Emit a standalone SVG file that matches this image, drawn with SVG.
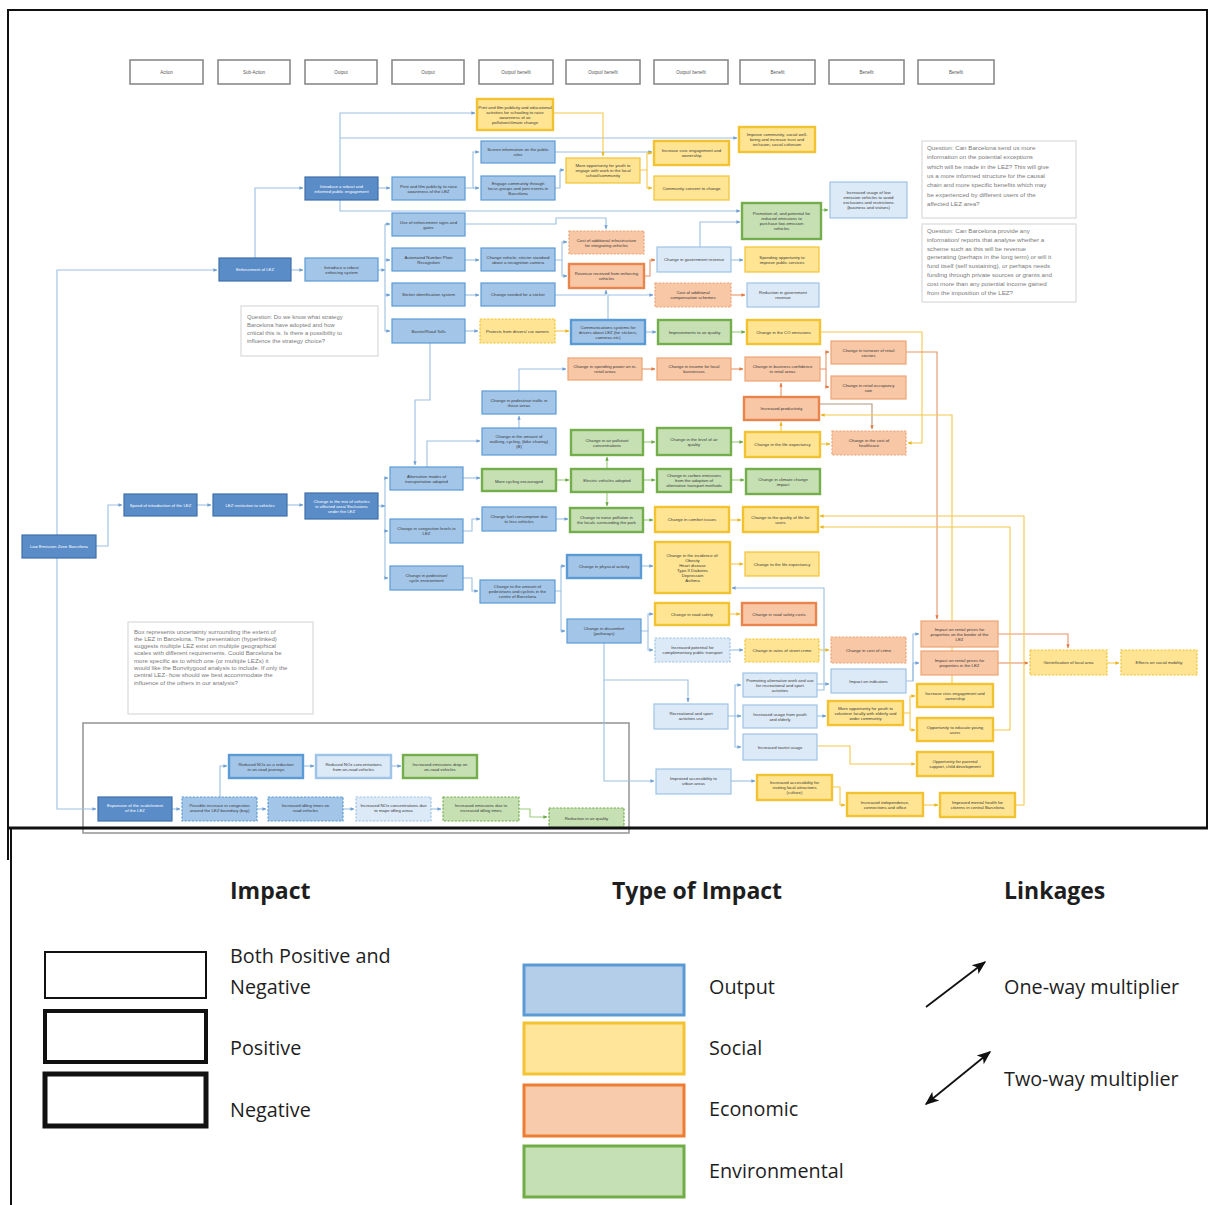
<svg xmlns="http://www.w3.org/2000/svg" width="1209" height="1205" viewBox="0 0 1209 1205">
<style>
.nd text{font-family:"Liberation Sans",Arial,sans-serif;font-size:4.3px;text-anchor:middle;fill:#3a3a3a}
.nd rect{stroke-width:1.2}
.hd rect{fill:#fff;stroke:#8a8a8a;stroke-width:1.6}
.hd text{font-size:4.5px;fill:#555}
.db rect{fill:#5a8cc8;stroke:#3f70aa}
.db text{fill:#fff}
.b rect{fill:#a3c5e8;stroke:#5b9bd5}
.lb rect{fill:#dce9f6;stroke:#9dc3e6}
.y rect{fill:#ffe593;stroke:#f2c232}
.o rect{fill:#f8c7a6;stroke:#eea476}
.g rect{fill:#c6e0b4;stroke:#74ae4c}
.tk rect{stroke-width:2.4}
.o.tk rect{stroke:#e9844c}
.ds rect{stroke-dasharray:2.2 1.4}
.q rect{fill:#fff;stroke:#d9d9d9;stroke-width:1.2}
.q text{font-family:"Liberation Sans",Arial,sans-serif;fill:#7a7a7a}
.cn path{fill:none;stroke-width:1.1}
.cb{stroke:#9cc0e4;marker-end:url(#ab)}
.cy{stroke:#f4c84a;marker-end:url(#ay)}
.co{stroke:#e89468;marker-end:url(#ao)}
.cg{stroke:#9ccb7c;marker-end:url(#ag)}
.lg{font-family:"Open Sans","Noto Sans",sans-serif;fill:#1e1e1e}
.lh{font-size:23px;font-weight:700}
.lt{font-size:19.8px}
</style>
<defs>
<marker id="ab" viewBox="0 0 6 6" refX="5.5" refY="3" markerWidth="3.6" markerHeight="3.6" orient="auto"><path d="M0,0.5 L6,3 L0,5.5z" fill="#6f9fd3"/></marker>
<marker id="ay" viewBox="0 0 6 6" refX="5.5" refY="3" markerWidth="3.6" markerHeight="3.6" orient="auto"><path d="M0,0.5 L6,3 L0,5.5z" fill="#e9b520"/></marker>
<marker id="ao" viewBox="0 0 6 6" refX="5.5" refY="3" markerWidth="3.6" markerHeight="3.6" orient="auto"><path d="M0,0.5 L6,3 L0,5.5z" fill="#e27a44"/></marker>
<marker id="ag" viewBox="0 0 6 6" refX="5.5" refY="3" markerWidth="3.6" markerHeight="3.6" orient="auto"><path d="M0,0.5 L6,3 L0,5.5z" fill="#6aa843"/></marker>
<marker id="ak" viewBox="0 0 10 10" refX="9" refY="5" markerUnits="userSpaceOnUse" markerWidth="14" markerHeight="14" orient="auto-start-reverse"><path d="M0,1 L10,5 L0,9 L2.5,5z" fill="#111"/></marker>
</defs>
<rect width="1209" height="1205" fill="#fff"/>

<!-- frame -->
<path d="M8,860 V10 H1207 V828" fill="none" stroke="#111" stroke-width="2"/>

<!-- uncertainty box -->
<rect x="83" y="723" width="546" height="110" fill="none" stroke="#9a9a9a" stroke-width="1.6"/>

<!-- connectors -->
<g id="connectors" class="cn">
<path class="cb" d="M57,535 V270 H217"/>
<path class="cb" d="M57,558 V809 H96"/>
<path class="cb" d="M96,546 H108 V505 H122"/>
<path class="cb" d="M197,505 H211"/>
<path class="cb" d="M287,505 H303"/>
<path class="cb" d="M255,258 V188 H303"/>
<path class="cb" d="M291,270 H303"/>
<path class="cb" d="M378,188 H390"/>
<path class="cb" d="M340,177 V113 H475"/>
<path class="cb" d="M340,138 H737"/>
<path class="cb" d="M340,200 V211 H740"/>
<path class="cb" d="M465,188 H473 V152 H479"/>
<path class="cb" d="M473,188 H479"/>
<path class="cb" d="M378,270 H385"/>
<path class="cb" d="M385,224 V331 H390"/>
<path class="cb" d="M385,224 H390"/>
<path class="cb" d="M385,260 H390"/>
<path class="cb" d="M385,295 H390"/>
<path class="cb" d="M465,224 H556 V218 H606 V229"/>
<path class="cb" d="M465,260 H479"/>
<path class="cb" d="M555,260 H562 V242 H567"/>
<path class="cb" d="M562,260 V276 H567"/>
<path class="cb" d="M465,295 H479"/>
<path class="cb" d="M555,295 H606 V290"/>
<path class="cb" d="M465,331 H478"/>
<path class="cy" d="M555,331 H569"/>
<path class="cb" d="M645,332 H656"/>
<path class="cg" d="M731,332 H745"/>
<path class="cb" d="M608,320 V295 H653"/>
<path class="co" d="M731,295 H745"/>
<path class="co" d="M644,276 H650 V260 H655"/>
<path class="cb" d="M731,260 H743"/>
<path class="cb" d="M700,247 V222 H740"/>
<path class="cg" d="M821,210 H828"/>
<path class="cb" d="M555,152 H652"/>
<path class="cb" d="M555,188 H560 V170 H564"/>
<path class="cy" d="M553,113 H603 V156"/>
<path class="cy" d="M640,170 H647 V153 H652"/>
<path class="cy" d="M647,170 V188 H652"/>
<path class="cb" d="M430,343 V400 H415 V465"/>
<path class="cb" d="M463,478 H480"/>
<path class="cb" d="M427,467 V441 H480"/>
<path class="cb" d="M519,428 V416"/>
<path class="cb" d="M519,391 V369 H566"/>
<path class="co" d="M642,369 H655"/>
<path class="co" d="M731,369 H743"/>
<path class="co" d="M820,369 H826 V352 H829"/>
<path class="co" d="M826,369 V387 H829"/>
<path class="co" d="M781,397 V383"/>
<path class="cy" d="M781,432 V422"/>
<path class="co" d="M819,404 H872 V429" style="stroke:#b8957e"/>
<path class="cy" d="M820,444 H830"/>
<path class="cy" d="M820,332 H922 V443 H908"/>
<path class="co" d="M906,352 H937 V619"/>
<path class="cy" d="M952,684 V415 H821"/>
<path class="cg" d="M556,480 H569"/>
<path class="cg" d="M607,469 V457"/>
<path class="cg" d="M607,492 V506"/>
<path class="cg" d="M643,442 H655"/>
<path class="cg" d="M731,442 H743"/>
<path class="cg" d="M643,480 H655"/>
<path class="cg" d="M731,480 H744"/>
<path class="cb" d="M463,531 H472 V519 H480"/>
<path class="cb" d="M556,519 H568"/>
<path class="cg" d="M643,520 H653"/>
<path class="cy" d="M729,520 H741"/>
<path class="cb" d="M385,478 V578 H388"/>
<path class="cb" d="M378,506 H385"/>
<path class="cb" d="M385,478 H388"/>
<path class="cb" d="M385,531 H388"/>
<path class="cb" d="M463,578 H472 V591 H478"/>
<path class="cb" d="M555,591 H561 V566 H565"/>
<path class="cb" d="M561,591 V631 H565"/>
<path class="cb" d="M641,566 H653"/>
<path class="cy" d="M730,564 H743"/>
<path class="cb" d="M641,631 H648 V614 H653"/>
<path class="cb" d="M648,631 V650 H653"/>
<path class="cy" d="M729,614 H740"/>
<path class="cb" d="M730,650 H743"/>
<path class="cy" d="M819,650 H829"/>
<path class="cb" d="M604,643 V680 H688 V702"/>
<path class="cb" d="M604,680 V781 H654"/>
<path class="cb" d="M728,716 H735 V685 H741"/>
<path class="cb" d="M735,716 H741"/>
<path class="cb" d="M735,716 V747 H741"/>
<path class="cb" d="M817,690 H824 V588 H732"/>
<path class="cb" d="M817,684 H829"/>
<path class="cb" d="M906,681 H913 V634 H919"/>
<path class="cb" d="M913,681 V663 H919"/>
<path class="cb" d="M817,716 H826"/>
<path class="cy" d="M903,713 H910 V696 H915"/>
<path class="cy" d="M910,713 V730 H915"/>
<path class="cy" d="M817,746 H850 V764 H915"/>
<path class="cb" d="M731,781 H755"/>
<path class="cy" d="M832,787 H840 V805 H845"/>
<path class="cy" d="M923,805 H938"/>
<path class="co" d="M998,634 H1068 V648"/>
<path class="co" d="M998,663 H1028"/>
<path class="cy" d="M1107,663 H1119"/>
<path class="cy" d="M1015,805 H1024 V516 H820"/>
<path class="cy" d="M993,730 H1010 V527 H820"/>
<path class="cb" d="M172,809 H180"/>
<path class="cb" d="M257,809 H266"/>
<path class="cb" d="M220,797 V766 H227"/>
<path class="cb" d="M303,766 H314"/>
<path class="cb" d="M391,766 H401"/>
<path class="cb" d="M343,809 H354"/>
<path class="cb" d="M431,809 H441"/>
<path class="cg" d="M519,809 H530 V817 H547"/>
</g>

<!-- header boxes -->
<g id="h1" class="nd hd"><rect x="130" y="60" width="73" height="24"/><text x="166.5" y="74">Action</text></g>
<g id="h2" class="nd hd"><rect x="218" y="60" width="72" height="24"/><text x="254" y="74">Sub-Action</text></g>
<g id="h3" class="nd hd"><rect x="305" y="60" width="72" height="24"/><text x="341" y="74">Output</text></g>
<g id="h4" class="nd hd"><rect x="392" y="60" width="72" height="24"/><text x="428" y="74">Output</text></g>
<g id="h5" class="nd hd"><rect x="479" y="60" width="74" height="24"/><text x="516" y="74">Output/ benefit</text></g>
<g id="h6" class="nd hd"><rect x="566" y="60" width="74" height="24"/><text x="603" y="74">Output/ benefit</text></g>
<g id="h7" class="nd hd"><rect x="654" y="60" width="74" height="24"/><text x="691" y="74">Output/ benefit</text></g>
<g id="h8" class="nd hd"><rect x="740" y="60" width="75" height="24"/><text x="777.5" y="74">Benefit</text></g>
<g id="h9" class="nd hd"><rect x="829" y="60" width="75" height="24"/><text x="866.5" y="74">Benefit</text></g>
<g id="h10" class="nd hd"><rect x="918" y="60" width="76" height="24"/><text x="956" y="74">Benefit</text></g>

<!-- nodes -->
<g id="n1" class="nd db"><rect x="22" y="535" width="74" height="23"/><text x="59" y="548">Low Emission Zone Barcelona</text></g>
<g id="n2" class="nd db"><rect x="219" y="258" width="72" height="23"/><text x="255" y="271">Enforcement of LEZ</text></g>
<g id="n3" class="nd db"><rect x="124" y="494" width="73" height="22"/><text x="160.5" y="506.5">Speed of introduction of the LEZ</text></g>
<g id="n4" class="nd db"><rect x="213" y="494" width="74" height="22"/><text x="250" y="506.5">LEZ restriction to vehicles</text></g>
<g id="n5" class="nd db"><rect x="305" y="493" width="73" height="26"/><text x="341.5" y="502.5">Change in the mix of vehicles<tspan x="341.5" y="507.5">in affected area/ Exclusions</tspan><tspan x="341.5" y="512.5">under the LEZ</tspan></text></g>
<g id="n6" class="nd db"><rect x="305" y="177" width="73" height="23"/><text x="341.5" y="187.5">Introduce a robust and<tspan x="341.5" y="192.5">informed public engagement</tspan></text></g>
<g id="n7" class="nd b"><rect x="305" y="258" width="73" height="23"/><text x="341.5" y="268.5">Introduce a robust<tspan x="341.5" y="273.5">enforcing system</tspan></text></g>
<g id="n8" class="nd b"><rect x="392" y="177" width="73" height="23"/><text x="428.5" y="187.5">Print and film publicity to raise<tspan x="428.5" y="192.5">awareness of the LEZ</tspan></text></g>
<g id="n9" class="nd b"><rect x="392" y="213" width="73" height="23"/><text x="428.5" y="223.5">Use of enforcement signs and<tspan x="428.5" y="228.5">gates</tspan></text></g>
<g id="n10" class="nd b"><rect x="392" y="248" width="73" height="23"/><text x="428.5" y="258.5">Automated Number Plate<tspan x="428.5" y="263.5">Recognition</tspan></text></g>
<g id="n11" class="nd b"><rect x="392" y="283" width="73" height="23"/><text x="428.5" y="296">Sticker identification system</text></g>
<g id="n12" class="nd b"><rect x="392" y="319" width="73" height="24"/><text x="428.5" y="332.5">Barrier/Road Tolls</text></g>
<g id="n13" class="nd b"><rect x="390" y="467" width="73" height="23"/><text x="426.5" y="477.5">Alternative modes of<tspan x="426.5" y="482.5">transportation adopted</tspan></text></g>
<g id="n14" class="nd b"><rect x="390" y="519" width="73" height="24"/><text x="426.5" y="530">Change in congestion levels in<tspan x="426.5" y="535">LEZ</tspan></text></g>
<g id="n15" class="nd b"><rect x="390" y="566" width="73" height="24"/><text x="426.5" y="577">Change in pedestrian/<tspan x="426.5" y="582">cycle environment</tspan></text></g>
<g id="n16" class="nd y tk"><rect x="477" y="99" width="76" height="31"/><text x="515" y="108.5">Print and film publicity and educational<tspan x="515" y="113.5">activities for schooling to raise</tspan><tspan x="515" y="118.5">awareness of air</tspan><tspan x="515" y="123.5">pollution/climate change</tspan></text></g>
<g id="n17" class="nd b"><rect x="481" y="141" width="74" height="22"/><text x="518" y="151">Screen information on the public<tspan x="518" y="156">sites</tspan></text></g>
<g id="n18" class="nd b"><rect x="481" y="176" width="74" height="24"/><text x="518" y="184.5">Engage community through<tspan x="518" y="189.5">focus groups and joint events in</tspan><tspan x="518" y="194.5">Barcelona</tspan></text></g>
<g id="n19" class="nd b"><rect x="481" y="248" width="74" height="23"/><text x="518" y="258.5">Change vehicle, stricter standard<tspan x="518" y="263.5">about a recognition camera</tspan></text></g>
<g id="n20" class="nd b"><rect x="481" y="283" width="74" height="23"/><text x="518" y="296">Change needed for a sticker</text></g>
<g id="n21" class="nd y ds"><rect x="480" y="319" width="75" height="24"/><text x="517.5" y="332.5">Protests from drivers/ car owners</text></g>
<g id="n22" class="nd b"><rect x="482" y="391" width="74" height="23"/><text x="519" y="401.5">Change in pedestrian traffic in<tspan x="519" y="406.5">those areas</tspan></text></g>
<g id="n23" class="nd b"><rect x="482" y="428" width="74" height="27"/><text x="519" y="438">Change in the amount of<tspan x="519" y="443">walking, cycling, (bike sharing)</tspan><tspan x="519" y="448">(B)</tspan></text></g>
<g id="n24" class="nd g tk"><rect x="482" y="469" width="74" height="22"/><text x="519" y="482.5">More cycling encouraged</text></g>
<g id="n25" class="nd b"><rect x="482" y="507" width="74" height="24"/><text x="519" y="518">Change fuel consumption due<tspan x="519" y="523">to less vehicles</tspan></text></g>
<g id="n26" class="nd b"><rect x="480" y="580" width="75" height="23"/><text x="517.5" y="588">Change to the amount of<tspan x="517.5" y="593">pedestrians and cyclists in the</tspan><tspan x="517.5" y="598">centre of Barcelona</tspan></text></g>
<g id="n27" class="nd y"><rect x="566" y="158" width="74" height="25"/><text x="603" y="167">More opportunity for youth to<tspan x="603" y="172">engage with work in the local</tspan><tspan x="603" y="177">school/community</tspan></text></g>
<g id="n28" class="nd o ds"><rect x="569" y="231" width="75" height="23"/><text x="606.5" y="241.5">Cost of additional infrastructure<tspan x="606.5" y="246.5">for integrating vehicles</tspan></text></g>
<g id="n29" class="nd o tk"><rect x="569" y="264" width="75" height="24"/><text x="606.5" y="275">Revenue received from enforcing<tspan x="606.5" y="280">vehicles</tspan></text></g>
<g id="n30" class="nd b tk"><rect x="571" y="320" width="74" height="24"/><text x="608" y="328.5">Communications systems for<tspan x="608" y="333.5">drivers about LEZ (for stickers,</tspan><tspan x="608" y="338.5">cameras etc)</tspan></text></g>
<g id="n31" class="nd o"><rect x="568" y="358" width="74" height="22"/><text x="605" y="368">Change in spending power on in-<tspan x="605" y="373">retail areas</tspan></text></g>
<g id="n32" class="nd g tk"><rect x="571" y="430" width="72" height="25"/><text x="607" y="441.5">Change in air pollutant<tspan x="607" y="446.5">concentrations</tspan></text></g>
<g id="n33" class="nd g tk"><rect x="571" y="469" width="72" height="23"/><text x="607" y="482">Electric vehicles adopted</text></g>
<g id="n34" class="nd g tk"><rect x="570" y="508" width="73" height="24"/><text x="606.5" y="519">Change to noise pollution in<tspan x="606.5" y="524">the locals surrounding the park</tspan></text></g>
<g id="n35" class="nd b tk"><rect x="567" y="555" width="74" height="23"/><text x="604" y="568">Change in physical activity</text></g>
<g id="n36" class="nd b"><rect x="567" y="619" width="74" height="24"/><text x="604" y="630">Change in discomfort<tspan x="604" y="635">(pathways)</tspan></text></g>
<g id="n37" class="nd y tk"><rect x="654" y="141" width="75" height="24"/><text x="691.5" y="152">Increase civic engagement and<tspan x="691.5" y="157">ownership</tspan></text></g>
<g id="n38" class="nd y"><rect x="654" y="176" width="75" height="24"/><text x="691.5" y="189.5">Community consent to change</text></g>
<g id="n39" class="nd lb"><rect x="657" y="247" width="74" height="25"/><text x="694" y="261">Change in government revenue</text></g>
<g id="n40" class="nd o ds"><rect x="655" y="283" width="76" height="24"/><text x="693" y="294">Cost of additional<tspan x="693" y="299">compensation schemes</tspan></text></g>
<g id="n41" class="nd g tk"><rect x="658" y="320" width="73" height="24"/><text x="694.5" y="333.5">Improvements to air quality</text></g>
<g id="n42" class="nd o"><rect x="657" y="358" width="74" height="22"/><text x="694" y="368">Change in income for local<tspan x="694" y="373">businesses</tspan></text></g>
<g id="n43" class="nd g tk"><rect x="657" y="428" width="74" height="27"/><text x="694" y="440.5">Change in the level of air<tspan x="694" y="445.5">quality</tspan></text></g>
<g id="n44" class="nd g tk"><rect x="657" y="469" width="74" height="23"/><text x="694" y="477">Change in carbon emissions<tspan x="694" y="482">from the adoption of</tspan><tspan x="694" y="487">alternative transport methods</tspan></text></g>
<g id="n45" class="nd y tk"><rect x="655" y="507" width="74" height="25"/><text x="692" y="521">Change in comfort issues</text></g>
<g id="n46" class="nd y tk"><rect x="655" y="542" width="75" height="51"/><text x="692.5" y="556.5">Change in the incidence of:<tspan x="692.5" y="561.5">Obesity</tspan><tspan x="692.5" y="566.5">Heart disease</tspan><tspan x="692.5" y="571.5">Type II Diabetes</tspan><tspan x="692.5" y="576.5">Depression</tspan><tspan x="692.5" y="581.5">Asthma</tspan></text></g>
<g id="n47" class="nd y tk"><rect x="655" y="603" width="74" height="22"/><text x="692" y="615.5">Change in road safety</text></g>
<g id="n48" class="nd lb ds"><rect x="655" y="638" width="75" height="24"/><text x="692.5" y="649">Increased potential for<tspan x="692.5" y="654">complementary public transport</tspan></text></g>
<g id="n49" class="nd y tk"><rect x="739" y="127" width="76" height="25"/><text x="777" y="136">Improve community, social well-<tspan x="777" y="141">being and increase trust and</tspan><tspan x="777" y="146">inclusion, social cohesion</tspan></text></g>
<g id="n50" class="nd g tk"><rect x="742" y="203" width="79" height="36"/><text x="781.5" y="215">Promotion of, and potential for<tspan x="781.5" y="220">reduced emissions to</tspan><tspan x="781.5" y="225">purchase low-emission</tspan><tspan x="781.5" y="230">vehicles</tspan></text></g>
<g id="n51" class="nd y"><rect x="745" y="247" width="74" height="25"/><text x="782" y="258.5">Spending opportunity to<tspan x="782" y="263.5">improve public services</tspan></text></g>
<g id="n52" class="nd lb"><rect x="747" y="283" width="72" height="24"/><text x="783" y="294">Reduction in government<tspan x="783" y="299">revenue</tspan></text></g>
<g id="n53" class="nd y tk"><rect x="747" y="320" width="73" height="24"/><text x="783.5" y="333.5">Change in the CO emissions</text></g>
<g id="n54" class="nd o"><rect x="745" y="357" width="75" height="24"/><text x="782.5" y="368">Change in business confidence<tspan x="782.5" y="373">in retail areas</tspan></text></g>
<g id="n55" class="nd o tk"><rect x="744" y="397" width="75" height="23"/><text x="781.5" y="410">Increased productivity</text></g>
<g id="n56" class="nd y tk"><rect x="745" y="432" width="75" height="25"/><text x="782.5" y="446">Change in the life expectancy</text></g>
<g id="n57" class="nd g tk"><rect x="746" y="469" width="74" height="25"/><text x="783" y="480.5">Change in climate change<tspan x="783" y="485.5">impact</tspan></text></g>
<g id="n58" class="nd y tk"><rect x="743" y="507" width="75" height="25"/><text x="780.5" y="518.5">Change to the quality of life for<tspan x="780.5" y="523.5">users</tspan></text></g>
<g id="n59" class="nd y"><rect x="745" y="552" width="74" height="24"/><text x="782" y="565.5">Change to the life expectancy</text></g>
<g id="n60" class="nd o tk"><rect x="742" y="603" width="74" height="22"/><text x="779" y="615.5">Change in road safety costs</text></g>
<g id="n61" class="nd y ds"><rect x="745" y="639" width="74" height="23"/><text x="782" y="652">Change in rates of street crime</text></g>
<g id="n62" class="nd lb"><rect x="830" y="182" width="77" height="36"/><text x="868.5" y="194">Increased usage of low<tspan x="868.5" y="199">emission vehicles to avoid</tspan><tspan x="868.5" y="204">exclusions and restrictions</tspan><tspan x="868.5" y="209">(business and visitors)</tspan></text></g>
<g id="n63" class="nd o"><rect x="831" y="341" width="75" height="23"/><text x="868.5" y="351.5">Change in turnover of retail<tspan x="868.5" y="356.5">sectors</tspan></text></g>
<g id="n64" class="nd o"><rect x="831" y="376" width="75" height="23"/><text x="868.5" y="386.5">Change in retail occupancy<tspan x="868.5" y="391.5">rate</tspan></text></g>
<g id="n65" class="nd o ds"><rect x="832" y="431" width="74" height="24"/><text x="869" y="442">Change in the cost of<tspan x="869" y="447">healthcare</tspan></text></g>
<g id="n66" class="nd o ds"><rect x="831" y="637" width="75" height="26"/><text x="868.5" y="651.5">Change in cost of crime</text></g>
<g id="n67" class="nd lb"><rect x="743" y="673" width="74" height="24"/><text x="780" y="681.5">Promoting alternative work and use<tspan x="780" y="686.5">for recreational and sport</tspan><tspan x="780" y="691.5">activities</tspan></text></g>
<g id="n68" class="nd lb"><rect x="654" y="704" width="74" height="25"/><text x="691" y="715">Recreational and sport<tspan x="691" y="720">activities use</tspan></text></g>
<g id="n69" class="nd lb"><rect x="743" y="705" width="74" height="23"/><text x="780" y="715.5">Increased usage from youth<tspan x="780" y="720.5">and elderly</tspan></text></g>
<g id="n70" class="nd lb"><rect x="743" y="734" width="74" height="26"/><text x="780" y="748.5">Increased tourist usage</text></g>
<g id="n71" class="nd lb"><rect x="656" y="769" width="75" height="25"/><text x="693.5" y="780">Improved accessibility to<tspan x="693.5" y="785">urban areas</tspan></text></g>
<g id="n72" class="nd y tk"><rect x="828" y="701" width="75" height="24"/><text x="865.5" y="709.5">More opportunity for youth to<tspan x="865.5" y="714.5">volunteer locally with elderly and</tspan><tspan x="865.5" y="719.5">wider community</tspan></text></g>
<g id="n73" class="nd lb"><rect x="831" y="669" width="75" height="24"/><text x="868.5" y="682.5">Impact on indicators</text></g>
<g id="n74" class="nd o"><rect x="921" y="621" width="77" height="26"/><text x="959.5" y="630.5">Impact on rental prices for<tspan x="959.5" y="635.5">properties on the border of the</tspan><tspan x="959.5" y="640.5">LEZ</tspan></text></g>
<g id="n75" class="nd o"><rect x="921" y="651" width="77" height="24"/><text x="959.5" y="662">Impact on rental prices for<tspan x="959.5" y="667">properties in the LEZ</tspan></text></g>
<g id="n76" class="nd y tk"><rect x="917" y="684" width="76" height="23"/><text x="955" y="694.5">Increase civic engagement and<tspan x="955" y="699.5">ownership</tspan></text></g>
<g id="n77" class="nd y tk"><rect x="917" y="718" width="76" height="23"/><text x="955" y="728.5">Opportunity to educate young<tspan x="955" y="733.5">users</tspan></text></g>
<g id="n78" class="nd y tk"><rect x="917" y="752" width="76" height="24"/><text x="955" y="763">Opportunity for parental<tspan x="955" y="768">support, child development</tspan></text></g>
<g id="n79" class="nd y tk"><rect x="757" y="775" width="75" height="25"/><text x="794.5" y="784">Increased accessibility for<tspan x="794.5" y="789">visiting local attractions</tspan><tspan x="794.5" y="794">(culture)</tspan></text></g>
<g id="n80" class="nd y tk"><rect x="847" y="793" width="76" height="23"/><text x="885" y="803.5">Increased independence,<tspan x="885" y="808.5">connections and office</tspan></text></g>
<g id="n81" class="nd y tk"><rect x="940" y="793" width="75" height="24"/><text x="977.5" y="804">Improved mental health for<tspan x="977.5" y="809">citizens in central Barcelona</tspan></text></g>
<g id="n82" class="nd y ds"><rect x="1030" y="650" width="77" height="25"/><text x="1068.5" y="664">Gentrification of local area</text></g>
<g id="n83" class="nd y ds"><rect x="1121" y="650" width="76" height="25"/><text x="1159" y="664">Effects on social mobility</text></g>
<g id="n84" class="nd db"><rect x="98" y="797" width="74" height="24"/><text x="135" y="807">Expansion of the scale/extent<tspan x="135" y="812">of the LEZ</tspan></text></g>
<g id="n85" class="nd b ds"><rect x="182" y="797" width="75" height="24"/><text x="219.5" y="807">Possible increase in congestion<tspan x="219.5" y="812">around the LEZ boundary (bay)</tspan></text></g>
<g id="n86" class="nd b tk"><rect x="229" y="755" width="74" height="23"/><text x="266" y="765.5">Reduced NOx as a reduction<tspan x="266" y="770.5">in on-road journeys</tspan></text></g>
<g id="n87" class="nd lb tk"><rect x="316" y="755" width="75" height="23"/><text x="353.5" y="765.5">Reduced NOx concentrations<tspan x="353.5" y="770.5">from on-road vehicles</tspan></text></g>
<g id="n88" class="nd g tk"><rect x="403" y="755" width="74" height="23"/><text x="440" y="765.5">Increased emissions drop on<tspan x="440" y="770.5">on-road vehicles</tspan></text></g>
<g id="n89" class="nd b ds"><rect x="268" y="797" width="75" height="24"/><text x="305.5" y="807">Increased idling times on<tspan x="305.5" y="812">road vehicles</tspan></text></g>
<g id="n90" class="nd lb ds"><rect x="356" y="797" width="75" height="24"/><text x="393.5" y="807">Increased NOx concentrations due<tspan x="393.5" y="812">to major idling areas</tspan></text></g>
<g id="n91" class="nd g ds"><rect x="443" y="797" width="76" height="24"/><text x="481" y="807">Increased emissions due to<tspan x="481" y="812">increased idling times</tspan></text></g>
<g id="n92" class="nd g ds"><rect x="549" y="808" width="75" height="20"/><text x="586.5" y="819.5">Reduction in air quality</text></g>

<!-- question notes -->
<g id="q1" class="q"><rect x="922" y="141" width="154" height="77"/><text font-size="6.2" x="927" y="150">Question: Can Barcelona send us more<tspan x="927" y="159.3">information on the potential exceptions</tspan><tspan x="927" y="168.6">which will be made in the LEZ? This will give</tspan><tspan x="927" y="177.9">us a more informed structure for the causal</tspan><tspan x="927" y="187.2">chain and more specific benefits which may</tspan><tspan x="927" y="196.5">be experienced by different users of the</tspan><tspan x="927" y="205.8">affected LEZ area?</tspan></text></g>
<g id="q2" class="q"><rect x="922" y="224" width="154" height="78"/><text font-size="6.2" x="927" y="233">Question: Can Barcelona provide any<tspan x="927" y="241.8">information/ reports that analyse whether a</tspan><tspan x="927" y="250.6">scheme such as this will be revenue</tspan><tspan x="927" y="259.4">generating (perhaps in the long term) or will it</tspan><tspan x="927" y="268.2">fund itself (self sustaining), or perhaps needs</tspan><tspan x="927" y="277">funding through private sources or grants and</tspan><tspan x="927" y="285.8">cost more than any potential income gained</tspan><tspan x="927" y="294.6">from the imposition of the LEZ?</tspan></text></g>
<g id="q3" class="q"><rect x="241" y="306" width="137" height="50"/><text font-size="5.9" x="247" y="318.5">Question: Do we know what strategy<tspan x="247" y="326.5">Barcelona have adopted and how</tspan><tspan x="247" y="334.5">critical this is. Is there a possibility to</tspan><tspan x="247" y="342.5">influence the strategy choice?</tspan></text></g>
<g id="q4" class="q"><rect x="128" y="622" width="185" height="92"/><text font-size="6.1" x="134" y="633.5">Box represents uncertainty surrounding the extent of<tspan x="134" y="640.8">the LEZ in Barcelona. The presentation (hyperlinked)</tspan><tspan x="134" y="648.1">suggests multiple LEZ exist on multiple geographical</tspan><tspan x="134" y="655.4">scales with different requirements. Could Barcelona be</tspan><tspan x="134" y="662.7">more specific as to which one (or multiple LEZs) it</tspan><tspan x="134" y="670">would like the Bonvitygood analysis to include. If only the</tspan><tspan x="134" y="677.3">central LEZ- how should we best accommodate the</tspan><tspan x="134" y="684.6">influence of the others in our analysis?</tspan></text></g>

<!-- separator / legend border -->
<line x1="9" y1="828" x2="1208" y2="828" stroke="#111" stroke-width="3"/>
<line x1="11" y1="827" x2="11" y2="1205" stroke="#111" stroke-width="2"/>

<!-- legend -->
<g id="legend">
<text class="lg lh" x="230" y="899">Impact</text>
<text class="lg lh" x="612" y="899">Type of Impact</text>
<text class="lg lh" x="1004" y="899">Linkages</text>

<g id="lg-both"><rect x="45" y="952" width="161" height="46" fill="#fff" stroke="#111" stroke-width="2"/><text class="lg lt" x="230" y="963">Both Positive and</text><text class="lg lt" x="230" y="994">Negative</text></g>
<g id="lg-pos"><rect x="45" y="1011" width="161" height="51" fill="#fff" stroke="#111" stroke-width="4"/><text class="lg lt" x="230" y="1055">Positive</text></g>
<g id="lg-neg"><rect x="45" y="1074" width="161" height="52" fill="#fff" stroke="#111" stroke-width="5"/><text class="lg lt" x="230" y="1117">Negative</text></g>

<g id="lg-output"><rect x="524" y="965" width="160" height="50" fill="#b4cde9" stroke="#5b9bd5" stroke-width="3"/><text class="lg lt" x="709" y="994">Output</text></g>
<g id="lg-social"><rect x="524" y="1023" width="160" height="51" fill="#fee599" stroke="#f4c232" stroke-width="3"/><text class="lg lt" x="709" y="1055">Social</text></g>
<g id="lg-econ"><rect x="524" y="1085" width="160" height="51" fill="#f8cbad" stroke="#ed7d31" stroke-width="3"/><text class="lg lt" x="709" y="1116">Economic</text></g>
<g id="lg-env"><rect x="524" y="1146" width="160" height="51" fill="#c5e0b4" stroke="#70ad47" stroke-width="3"/><text class="lg lt" x="709" y="1178">Environmental</text></g>

<g id="lg-oneway"><line x1="926" y1="1007" x2="985" y2="962" stroke="#111" stroke-width="1.8" marker-end="url(#ak)"/><text class="lg lt" x="1004" y="994">One-way multiplier</text></g>
<g id="lg-twoway"><line x1="926" y1="1104" x2="990" y2="1052" stroke="#111" stroke-width="1.8" marker-start="url(#ak)" marker-end="url(#ak)"/><text class="lg lt" x="1004" y="1086">Two-way multiplier</text></g>
</g>
</svg>
